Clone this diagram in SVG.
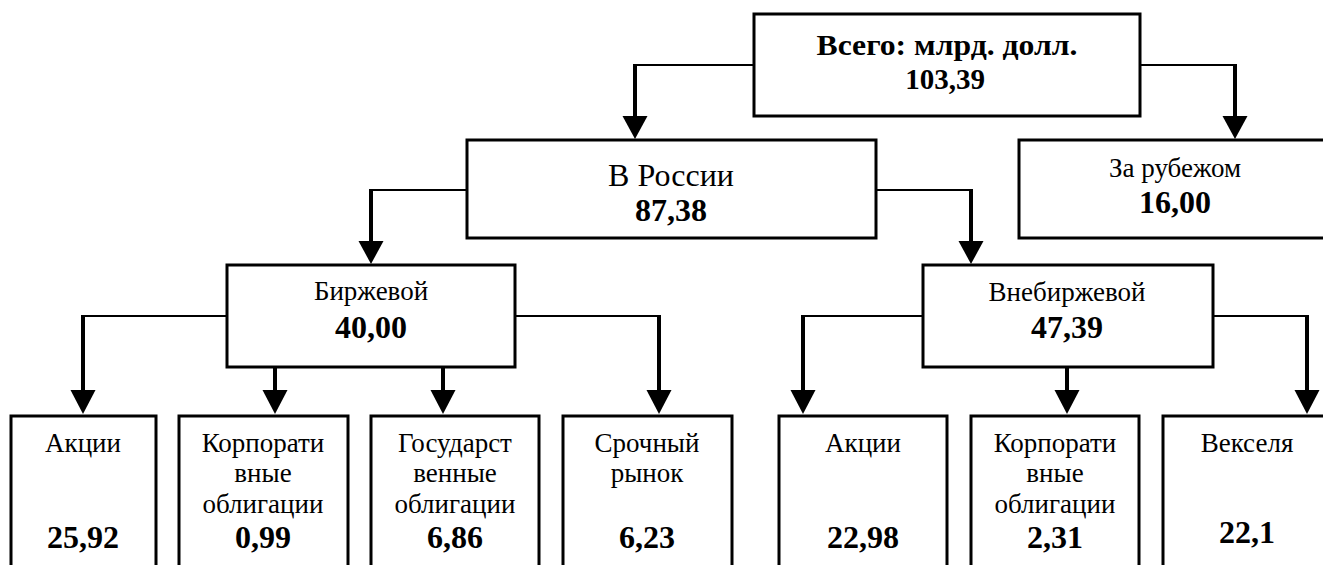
<svg xmlns="http://www.w3.org/2000/svg" width="1323" height="565" viewBox="0 0 1323 565">
<style>
.box{fill:#fff;stroke:#000;stroke-width:3}
.h{stroke:#000;stroke-width:2;fill:none}
.v{stroke:#000;stroke-width:4;fill:none}
.ah{fill:#000}
text{font-family:'Liberation Serif','Times New Roman',serif;fill:#000;text-anchor:middle}
.lbl{font-size:27px}
.big{font-size:32px}
.num{font-size:32px;font-weight:bold}
.top{font-size:30px;font-weight:bold}
</style>
<rect width="1323" height="565" fill="#fff"/>
<g id="connectors">
<path class="h" d="M754,65H635"/><path class="v" d="M635,64V118"/><polygon class="ah" points="622.5,116 647.5,116 635,139"/>
<path class="h" d="M1140,65H1235"/><path class="v" d="M1235,64V118"/><polygon class="ah" points="1222.5,116 1247.5,116 1235,139"/>
<path class="h" d="M467,190H371"/><path class="v" d="M371,189V243"/><polygon class="ah" points="358.5,241 383.5,241 371,264"/>
<path class="h" d="M876,190H971"/><path class="v" d="M971,189V243"/><polygon class="ah" points="958.5,241 983.5,241 971,264"/>
<path class="h" d="M227,316H83"/><path class="v" d="M83,315V392"/><polygon class="ah" points="70.5,390 95.5,390 83,414"/>
<path class="v" d="M275,367V392"/><polygon class="ah" points="262.5,390 287.5,390 275,414"/>
<path class="v" d="M443,367V392"/><polygon class="ah" points="430.5,390 455.5,390 443,414"/>
<path class="h" d="M515,316H659"/><path class="v" d="M659,315V392"/><polygon class="ah" points="646.5,390 671.5,390 659,414"/>
<path class="h" d="M923,316H803"/><path class="v" d="M803,315V392"/><polygon class="ah" points="790.5,390 815.5,390 803,414"/>
<path class="v" d="M1067,367V392"/><polygon class="ah" points="1054.5,390 1079.5,390 1067,414"/>
<path class="h" d="M1213,316H1307"/><path class="v" d="M1307,315V392"/><polygon class="ah" points="1294.5,390 1319.5,390 1307,414"/>
</g>
<g id="total"><rect class="box" x="754" y="14" width="386" height="102"/><text class="top" x="947" y="55" textLength="261" lengthAdjust="spacingAndGlyphs">Всего: млрд. долл.</text><text class="top" x="945" y="89" style="font-size:29px">103,39</text></g>
<g id="russia"><rect class="box" x="467" y="140" width="409" height="98"/><text class="big" x="671" y="185.5">В России</text><text class="num" x="671" y="221">87,38</text></g>
<g id="abroad"><rect class="box" x="1019" y="140" width="312" height="98"/><text class="lbl" x="1175" y="177">За рубежом</text><text class="num" x="1175" y="213">16,00</text></g>
<g id="exchange"><rect class="box" x="227" y="265" width="288" height="102"/><text class="lbl" x="371" y="300">Биржевой</text><text class="num" x="371" y="338">40,00</text></g>
<g id="otc"><rect class="box" x="923" y="265" width="290" height="102"/><text class="lbl" x="1067" y="301">Внебиржевой</text><text class="num" x="1067" y="338">47,39</text></g>
<g id="ex-shares"><rect class="box" x="11" y="416" width="145" height="170"/><text class="lbl" x="83" y="452">Акции</text><text class="num" x="83" y="548">25,92</text></g>
<g id="ex-corp"><rect class="box" x="179" y="416" width="169" height="170"/><text class="lbl" x="263" y="452">Корпорати</text><text class="lbl" x="263" y="482">вные</text><text class="lbl" x="263" y="513">облигации</text><text class="num" x="263" y="548">0,99</text></g>
<g id="ex-gov"><rect class="box" x="371" y="416" width="168" height="170"/><text class="lbl" x="455" y="452">Государст</text><text class="lbl" x="455" y="482">венные</text><text class="lbl" x="455" y="513">облигации</text><text class="num" x="455" y="548">6,86</text></g>
<g id="ex-deriv"><rect class="box" x="563" y="416" width="169" height="170"/><text class="lbl" x="647" y="452">Срочный</text><text class="lbl" x="647" y="482">рынок</text><text class="num" x="647" y="548">6,23</text></g>
<g id="otc-shares"><rect class="box" x="779" y="416" width="168" height="170"/><text class="lbl" x="863" y="452">Акции</text><text class="num" x="863" y="548">22,98</text></g>
<g id="otc-corp"><rect class="box" x="971" y="416" width="168" height="170"/><text class="lbl" x="1055" y="452">Корпорати</text><text class="lbl" x="1055" y="482">вные</text><text class="lbl" x="1055" y="513">облигации</text><text class="num" x="1055" y="548">2,31</text></g>
<g id="otc-bills"><rect class="box" x="1163" y="416" width="168" height="170"/><text class="lbl" x="1247" y="452">Векселя</text><text class="num" x="1247" y="543">22,1</text></g>
</svg>
